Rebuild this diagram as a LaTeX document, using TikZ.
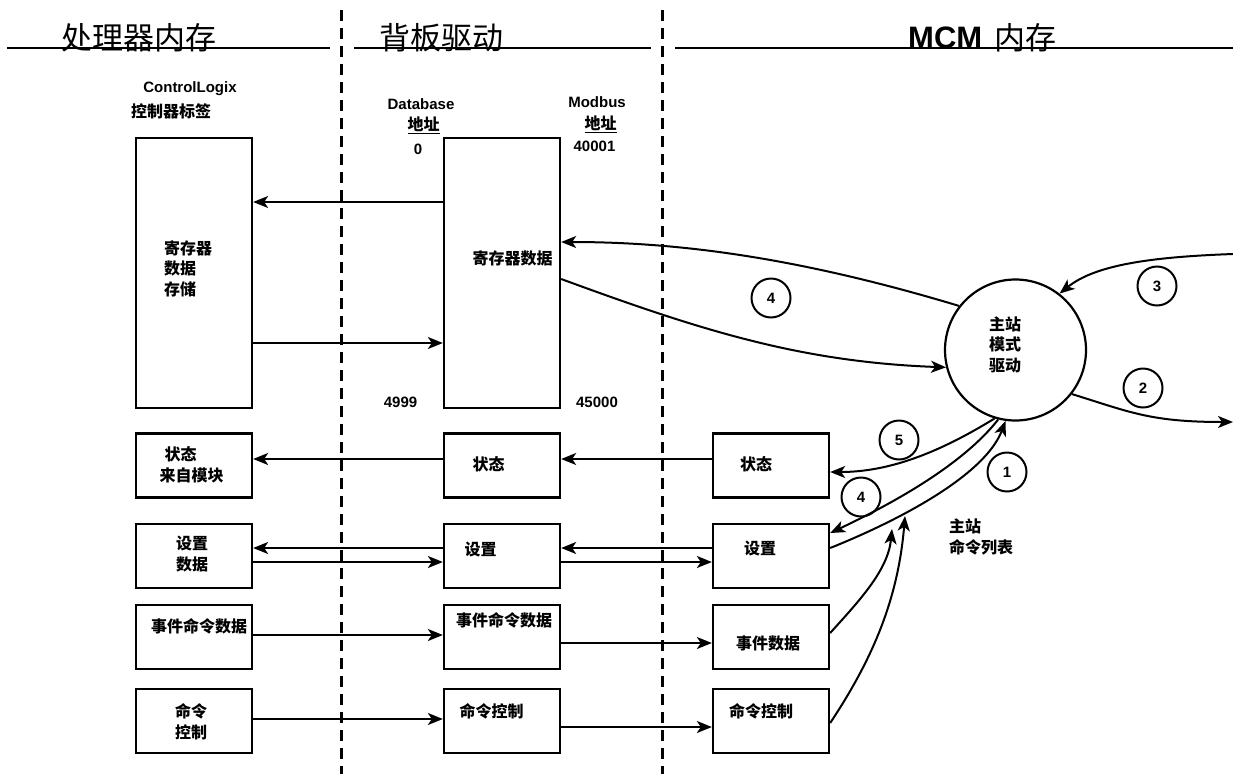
\documentclass[tikz,border=0pt]{standalone}
\usepackage{fontspec}
\setmainfont{Liberation Sans}
\newfontfamily\cjk{Noto Sans CJK SC}
\usetikzlibrary{arrows.meta}
\begin{document}
\begin{tikzpicture}[x=1pt,y=-1pt,
  box/.style={draw, line width=2.3pt, minimum width=116pt, minimum height=64pt, inner sep=0pt},
  bigbox/.style={box, minimum height=270pt},
  lbl/.style={font=\cjk\bfseries\fontsize{16}{20.5}\selectfont, inner sep=0pt},
  lat/.style={font=\bfseries\fontsize{15}{18}\selectfont, inner sep=0pt},
  hdr/.style={font=\cjk\fontsize{31}{31}\selectfont, inner sep=0pt, anchor=base west},
  num/.style={circle, draw, line width=2pt, minimum size=39pt, inner sep=0pt, font=\bfseries\fontsize{15}{18}\selectfont},
  arr/.style={line width=2pt, -{Stealth[length=15pt,width=12pt,inset=4pt]}},
  hline/.style={line width=2.2pt},
  divider/.style={line width=3pt, dash pattern=on 11pt off 7pt}]
\useasboundingbox (0,0) rectangle (1233,779);

% header lines and dividers
\draw[hline] (7,48) -- (330,48);
\draw[hline] (354,48) -- (651,48);
\draw[hline] (675,48) -- (1233,48);
\draw[divider] (341,10) -- (341,774);
\draw[divider] (662,10) -- (662,774);

\node[hdr] (h1) at (61,49.5) {处理器内存};
\node[hdr] (h2) at (379,49.5) {背板驱动};
\node[hdr] (h3) at (908,48) {{\fontspec{Liberation Sans}\bfseries MCM}\hspace{12pt}\raisebox{-1.5pt}{内存}};

% column captions
\node[lat] (cl) at (190,89) {ControlLogix};
\node[lbl] (cltag) at (171,111) {控制器标签};
\node[lat] (db) at (421,104) {Database};
\node[lbl] (dbaddr) at (423.5,125) {\underline{地址}};
\node[lat] (db0) at (418,149) {0};
\node[lat] (mb) at (597,102) {Modbus};
\node[lbl] (mbaddr) at (600.5,124) {\underline{地址}};
\node[lat] (mb1) at (594.5,146) {40001};
\node[lat] (db2) at (400.5,402) {4999};
\node[lat] (mb2) at (597,402) {45000};

% left column
\node[bigbox] (L1) at (194,273) {};
\node[box] (L2) at (194,465.5) {};
\node[box] (L3) at (194,556) {};
\node[box] (L4) at (194,637) {};
\node[box] (L5) at (194,721) {};
% middle column
\node[bigbox] (M1) at (502,273) {};
\node[box] (M2) at (502,465.5) {};
\node[box] (M3) at (502,556) {};
\node[box] (M4) at (502,637) {};
\node[box] (M5) at (502,721) {};
% MCM column
\node[box] (R2) at (771,465.5) {};
\node[box] (R3) at (771,556) {};
\node[box] (R4) at (771,637) {};
\node[box] (R5) at (771,721) {};

% box texts
\node[lbl, align=left, anchor=west] (tL1) at (164,268.5) {寄存器\\数据\\存储};
\node[lbl] (tM1) at (512.5,258) {寄存器数据};
\node[lbl] (tL2a) at (180.5,454) {状态};
\node[lbl] (tL2b) at (191.5,475) {来自模块};
\node[lbl] (tM2) at (488.5,464) {状态};
\node[lbl] (tR2) at (756,464) {状态};
\node[lbl, align=center] (tL3) at (192,554) {设置\\数据};
\node[lbl] (tM3) at (480.5,549) {设置};
\node[lbl] (tR3) at (760,548) {设置};
\node[lbl] (tL4) at (199,626) {事件命令数据};
\node[lbl] (tM4) at (504,620) {事件命令数据};
\node[lbl] (tR4) at (768,643) {事件数据};
\node[lbl, align=center] (tL5) at (191,722) {命令\\控制};
\node[lbl] (tM5) at (491.5,711) {命令控制};
\node[lbl] (tR5) at (761,711) {命令控制};

% driver circle
\node[circle, draw, line width=2.2pt, minimum size=141pt, inner sep=0pt] (drv) at (1015.5,350) {};
\node[lbl, align=center] (tdrv) at (1005,344.5) {主站\\模式\\驱动};
\node[lbl, align=left, anchor=west] (cmdl) at (949,537) {主站\\命令列表};

% numbered circles
\node[num] (n4a) at (771,298) {4};
\node[num] (n3) at (1157,286) {3};
\node[num] (n2) at (1143,388) {2};
\node[num] (n5) at (899,440) {5};
\node[num] (n4b) at (861,497) {4};
\node[num] (n1) at (1007,472) {1};

\coordinate (in3) at (1233,254);
\coordinate (out2) at (1233,422);

% straight arrows
\draw[arr] (M1.west |- 0,202) -- (L1.east |- 0,202);
\draw[arr] (L1.east |- 0,343) -- (M1.west |- 0,343);
\draw[arr] (R2.west |- 0,459) -- (M2.east |- 0,459);
\draw[arr] (M2.west |- 0,459) -- (L2.east |- 0,459);
\draw[arr] (R3.west |- 0,548) -- (M3.east |- 0,548);
\draw[arr] (M3.west |- 0,548) -- (L3.east |- 0,548);
\draw[arr] (L3.east |- 0,562) -- (M3.west |- 0,562);
\draw[arr] (M3.east |- 0,562) -- (R3.west |- 0,562);
\draw[arr] (L4.east |- 0,635) -- (M4.west |- 0,635);
\draw[arr] (M4.east |- 0,643) -- (R4.west |- 0,643);
\draw[arr] (L5.east |- 0,719) -- (M5.west |- 0,719);
\draw[arr] (M5.east |- 0,727) -- (R5.west |- 0,727);

% curved arrows
\draw[arr] (drv.142) .. controls (800,258) and (680,242) .. (M1.east |- 0,242);
\draw[arr] (M1.east |- 0,279) .. controls (700,330) and (800,362) .. (drv.194);
\draw[arr] (in3) .. controls (1150,257) and (1095,265) .. (drv.52);
\draw[arr] (drv.322) .. controls (1130,412) and (1150,422) .. (out2);
\draw[arr] (drv.253) .. controls (940,452) and (890,472) .. (R2.east |- 0,472);
\draw[arr] (drv.256) .. controls (965,462) and (900,500) .. (R3.east |- 0,533);
\draw[arr] (R3.east |- 0,548) .. controls (900,520) and (985,475) .. (drv.262);
\draw[arr] (R4.east |- 0,633) .. controls (860,600) and (888,570) .. (892,529);
\draw[arr] (R5.east |- 0,723) .. controls (872,660) and (898,600) .. (905,516);
\end{tikzpicture}
\end{document}
